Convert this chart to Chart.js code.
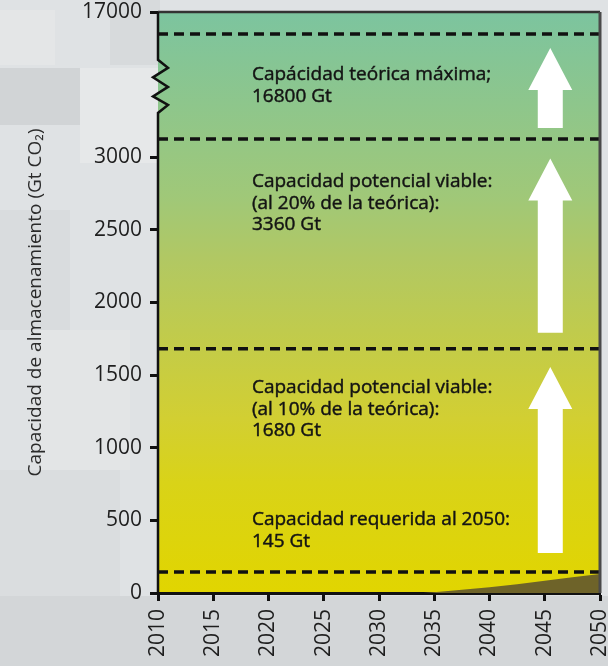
<!DOCTYPE html>
<html>
<head>
<meta charset="utf-8">
<script src="https://cdn.jsdelivr.net/npm/chart.js@4.4.1/dist/chart.umd.min.js"></script>
<style>
  html, body { margin: 0; padding: 0; }
  body {
    width: 608px; height: 666px; overflow: hidden;
    background-color: #dfe2e4;
    background-image:
      linear-gradient(#e4e6e7, #e4e6e7),
      linear-gradient(#d7dadc, #d7dadc),
      linear-gradient(#d1d4d6, #d1d4d6),
      linear-gradient(#e6e8e9, #e6e8e9),
      linear-gradient(#d9dcde, #d9dcde),
      linear-gradient(#e3e5e6, #e3e5e6),
      linear-gradient(#d3d6d8, #d3d6d8),
      linear-gradient(#dadddf, #dadddf);
    background-size:
      55px 55px, 50px 65px, 80px 57px, 80px 95px,
      70px 120px, 90px 140px, 608px 70px, 120px 200px;
    background-position:
      0 10px, 110px 0, 0 68px, 80px 68px,
      0 210px, 40px 330px, 0 596px, 0 470px;
    background-repeat: no-repeat;
  }
  #wrap { position: relative; width: 608px; height: 666px; }
</style>
</head>
<body>
<div id="wrap"><canvas id="chart" width="608" height="666"></canvas></div>
<script>
// ---- data ----
const yearTicks = [2010, 2015, 2020, 2025, 2030, 2035, 2040, 2045, 2050];
const capacityTicks = [0, 500, 1000, 1500, 2000, 2500, 3000, 17000];

// storage capacity thresholds (Gt CO2)
const capacityLevels = [145, 1680, 3360, 16800];

// text blocks and the capacity at which each first line sits
const capacityLabels = [
  ['Capacidad requerida al 2050:', '145 Gt'],
  ['Capacidad potencial viable:', '(al 10% de la teórica):', '1680 Gt'],
  ['Capacidad potencial viable:', '(al 20% de la teórica):', '3360 Gt'],
  ['Capácidad teórica máxima;', '16800 Gt']
];
const labelAnchors = [502, 1411, 2828, 11550];
const labelYear = 2018.5;

// cumulative stored CO2 (Gt)
const storedYears = [2034, 2040, 2045, 2050];
const storedValues = [0, 40, 85, 130];

// upward arrows between levels
const arrowYear = 2045.5;
const arrowFrom = [275, 1790, 4770];
const arrowTo = [1555, 2990, 15000];

// broken axis: value -> share of axis height
const axisStops = [[0, 0], [3000, 0.7504], [3360, 0.7814], [16800, 0.9621], [17000, 1]];
const axisBreak = [6700, 13500];

// ---- broken linear scale ----
function interp(v, stops, a, b) {
  if (v <= stops[0][a]) return stops[0][b];
  for (let i = 1; i < stops.length; i++) {
    if (v <= stops[i][a]) {
      const s0 = stops[i - 1], s1 = stops[i];
      return s0[b] + (v - s0[a]) / (s1[a] - s0[a]) * (s1[b] - s0[b]);
    }
  }
  return stops[stops.length - 1][b];
}

class BrokenLinearScale extends Chart.LinearScale {
  getPixelForValue(value) {
    const f = interp(value, this.options.stops, 0, 1);
    return this.bottom - f * (this.bottom - this.top);
  }
  getValueForPixel(pixel) {
    const f = (this.bottom - pixel) / (this.bottom - this.top);
    return interp(f, this.options.stops, 1, 0);
  }
}
BrokenLinearScale.id = 'brokenLinear';
BrokenLinearScale.defaults = Chart.LinearScale.defaults;
Chart.register(BrokenLinearScale);

const FONT = "'Open Sans', sans-serif";

// ---- drawing helpers ----
function bgGradient(ctx, area) {
  const g = ctx.createLinearGradient(0, area.top, 0, area.bottom);
  g.addColorStop(0, '#7cc49f');
  g.addColorStop(0.32, '#a0c878');
  g.addColorStop(0.43, '#b2c862');
  g.addColorStop(0.70, '#d2cf32');
  g.addColorStop(0.81, '#d9d318');
  g.addColorStop(1, '#e1d500');
  return g;
}

const decor = {
  id: 'decor',
  beforeDraw(chart) {
    const { ctx, chartArea: a } = chart;
    ctx.save();
    ctx.fillStyle = bgGradient(ctx, a);
    ctx.fillRect(a.left, a.top, a.right - a.left, a.bottom - a.top);
    ctx.restore();
  },
  afterDatasetsDraw(chart) {
    const { ctx, chartArea: a, scales: { x, y } } = chart;
    ctx.save();

    // arrows
    ctx.fillStyle = '#ffffff';
    const cx = x.getPixelForValue(arrowYear);
    const shaftW = 25, headW = 44, headH = 42;
    for (let i = 0; i < arrowFrom.length; i++) {
      const yb = y.getPixelForValue(arrowFrom[i]);
      const yt = y.getPixelForValue(arrowTo[i]);
      ctx.beginPath();
      ctx.moveTo(cx - shaftW / 2, yb);
      ctx.lineTo(cx - shaftW / 2, yt + headH);
      ctx.lineTo(cx - headW / 2, yt + headH);
      ctx.lineTo(cx, yt);
      ctx.lineTo(cx + headW / 2, yt + headH);
      ctx.lineTo(cx + shaftW / 2, yt + headH);
      ctx.lineTo(cx + shaftW / 2, yb);
      ctx.closePath();
      ctx.fill();
    }

    // text blocks
    ctx.fillStyle = '#141414';
    ctx.strokeStyle = '#141414';
    ctx.lineWidth = 0.45;
    ctx.font = "19px " + FONT;
    ctx.textAlign = 'left';
    ctx.textBaseline = 'middle';
    const tx = x.getPixelForValue(labelYear);
    capacityLabels.forEach((lines, i) => {
      const y0 = y.getPixelForValue(labelAnchors[i]);
      lines.forEach((t, j) => {
        ctx.fillText(t, tx, y0 + j * 21.5);
        ctx.strokeText(t, tx, y0 + j * 21.5);
      });
    });

    // top and right frame
    ctx.strokeStyle = '#333333';
    ctx.lineWidth = 2.5;
    ctx.beginPath();
    ctx.moveTo(a.left, a.top);
    ctx.lineTo(a.right, a.top);
    ctx.stroke();
    ctx.strokeStyle = '#4a4a4a';
    ctx.lineWidth = 3;
    ctx.beginPath();
    ctx.moveTo(a.right, a.top);
    ctx.lineTo(a.right, a.bottom);
    ctx.stroke();

    // left axis with break
    const yHi = y.getPixelForValue(axisBreak[1]);
    const yLo = y.getPixelForValue(axisBreak[0]);
    const zt = [0, 0.15, 0.33, 0.51, 0.69, 0.85, 1];
    const zx = [0, 10, -5, 10, -5, 10, 0];
    const pts = zt.map((t, i) => [a.left + zx[i], yHi + t * (yLo - yHi)]);
    ctx.fillStyle = bgGradient(ctx, a);
    ctx.beginPath();
    pts.forEach((p, i) => i ? ctx.lineTo(p[0], p[1]) : ctx.moveTo(p[0], p[1]));
    ctx.closePath();
    ctx.fill();
    ctx.strokeStyle = '#111111';
    ctx.lineWidth = 2.5;
    ctx.lineJoin = 'miter';
    ctx.beginPath();
    ctx.moveTo(a.left, a.top);
    ctx.lineTo(a.left, yHi);
    pts.forEach(p => ctx.lineTo(p[0], p[1]));
    ctx.lineTo(a.left, a.bottom);
    ctx.stroke();

    ctx.restore();
  }
};

// ---- datasets ----
const levelSets = capacityLevels.map(v => ({
  type: 'line',
  data: [{ x: 2010, y: v }, { x: 2050, y: v }],
  borderColor: '#111111',
  borderWidth: 3.5,
  borderDash: [10, 6],
  borderCapStyle: 'butt',
  pointRadius: 0,
  fill: false
}));

const storedSet = {
  type: 'line',
  data: storedYears.map((yr, i) => ({ x: yr, y: storedValues[i] })),
  borderWidth: 0,
  borderColor: 'rgba(0,0,0,0)',
  backgroundColor: '#6e6329',
  pointRadius: 0,
  cubicInterpolationMode: 'monotone',
  fill: 'origin'
};

new Chart(document.getElementById('chart'), {
  type: 'line',
  data: { datasets: [...levelSets, storedSet] },
  options: {
    responsive: false,
    devicePixelRatio: 1,
    animation: false,
    layout: { padding: { left: 0, top: 12, right: 8, bottom: 0 } },
    plugins: { legend: { display: false }, tooltip: { enabled: false } },
    scales: {
      x: {
        type: 'linear',
        min: 2010,
        max: 2050,
        afterBuildTicks: s => { s.ticks = yearTicks.map(v => ({ value: v })); },
        afterFit: s => { s.height = 73; s.paddingLeft = 0; s.paddingRight = 0; },
        ticks: {
          minRotation: 90,
          maxRotation: 90,
          padding: 8,
          color: '#1e1e1e',
          font: { family: FONT, size: 21 },
          callback: v => String(v)
        },
        grid: {
          drawOnChartArea: false,
          tickLength: 8,
          tickWidth: 3,
          tickColor: '#111111'
        },
        border: { display: true, color: '#111111', width: 3 }
      },
      y: {
        type: 'brokenLinear',
        stops: axisStops,
        min: 0,
        max: 17000,
        afterBuildTicks: s => { s.ticks = capacityTicks.map(v => ({ value: v })); },
        afterFit: s => { s.width = 158; s.paddingTop = 0; s.paddingBottom = 0; },
        ticks: {
          padding: 8,
          color: '#1e1e1e',
          font: { family: FONT, size: 21 },
          callback: v => String(v)
        },
        grid: {
          drawOnChartArea: false,
          tickLength: 8,
          tickWidth: 3,
          tickColor: '#111111'
        },
        border: { display: false },
        title: {
          display: true,
          text: 'Capacidad de almacenamiento (Gt CO₂)',
          color: '#2a2a2a',
          font: { family: FONT, size: 19 },
          padding: { top: 24, bottom: 0 }
        }
      }
    }
  },
  plugins: [decor]
});
</script>
</body>
</html>
